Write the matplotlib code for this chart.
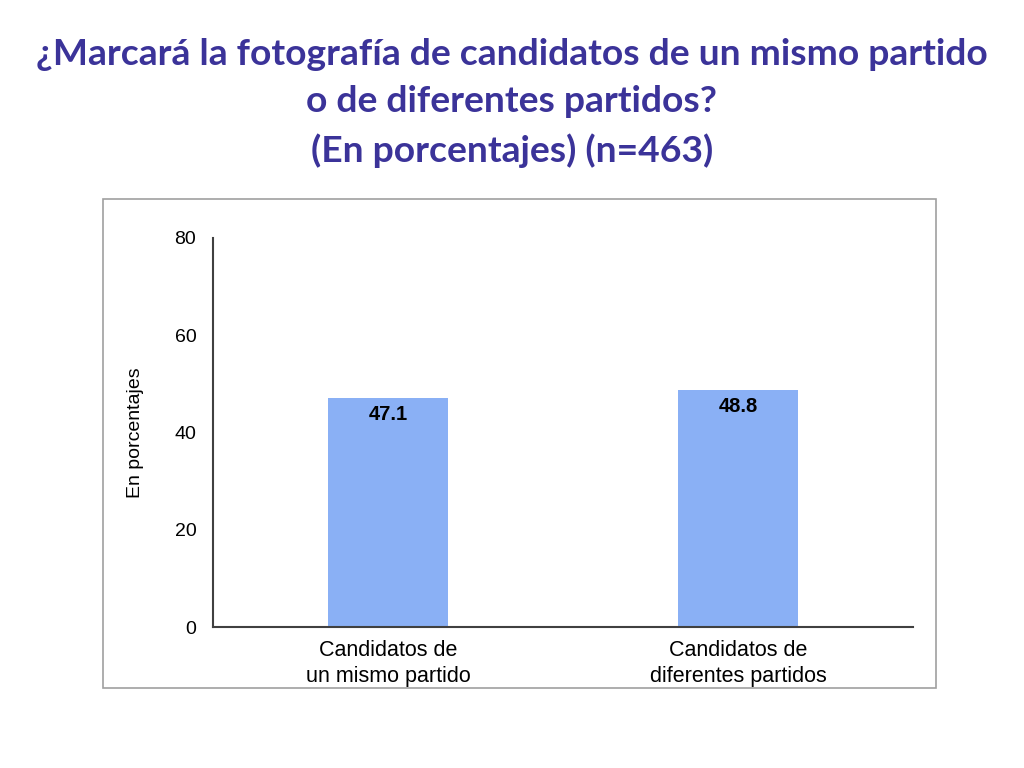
import matplotlib
matplotlib.use('Agg')
import matplotlib.pyplot as plt
from matplotlib.patches import Rectangle

# Data
categories = ['Candidatos de\nun mismo partido', 'Candidatos de\ndiferentes partidos']
values = [47.1, 48.8]
yticks = [0, 20, 40, 60, 80]

title_text = '¿Marcará la fotografía de candidatos de un mismo partido\no de diferentes partidos?\n(En porcentajes) (n=463)'

fig = plt.figure(figsize=(10.24, 7.68), dpi=100)

# title
fig.text(0.5, 0.951, title_text, ha='center', va='top', fontsize=26.8,
         fontweight='bold', family='Lato', color='#3B3399', linespacing=1.54)

# gray frame around chart
fig.patches.append(Rectangle((103 / 1024, 1 - 688 / 768), 833 / 1024, 489 / 768,
                             transform=fig.transFigure, fill=False,
                             edgecolor='#A0A0A0', linewidth=1.2))

ax = fig.add_axes([213 / 1024, 1 - 627 / 768, 700 / 1024, 389 / 768])
x = range(len(categories))
bars = ax.bar(x, values, width=0.345, color='#8AB0F5')

for b, v in zip(bars, values):
    ax.text(b.get_x() + b.get_width() / 2, v - 1.5, f'{v:.1f}', ha='center', va='top',
            fontsize=14.5, fontweight='bold', family='Liberation Sans', color='black')

ax.set_xlim(-0.5, 1.5)
ax.set_ylim(0, 80)
ax.set_yticks(yticks)
ax.set_xticks(list(x))
ax.set_xticklabels(categories, fontsize=15.5, family='Liberation Sans', linespacing=1.35)
for lbl in ax.get_yticklabels():
    lbl.set_fontsize(14)
    lbl.set_family('Liberation Sans')
ax.tick_params(axis='both', length=0)
ax.tick_params(axis='y', pad=12)
ax.tick_params(axis='x', pad=9)
ax.spines['top'].set_visible(False)
ax.spines['right'].set_visible(False)
ax.spines['left'].set_color('#404040')
ax.spines['bottom'].set_color('#404040')
ax.spines['left'].set_linewidth(1.5)
ax.spines['bottom'].set_linewidth(1.5)
ax.set_ylabel('En porcentajes', fontsize=14, family='Liberation Sans', labelpad=22)

fig.savefig('out.png', dpi=100)
